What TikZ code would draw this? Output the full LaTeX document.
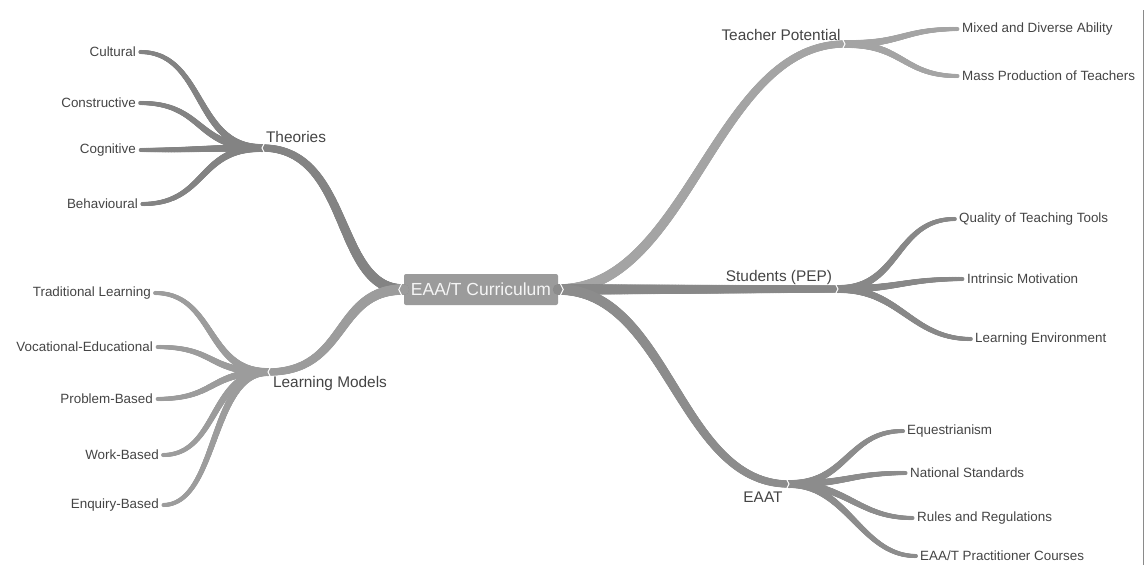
\documentclass[tikz,border=0pt]{standalone}
\usepackage{fontspec}
\setmainfont{Liberation Sans}
\usetikzlibrary{decorations.markings}

\definecolor{txt}{HTML}{444444}
\definecolor{bTh}{HTML}{838383}
\definecolor{bLm}{HTML}{9C9C9C}
\definecolor{bTp}{HTML}{A4A4A4}
\definecolor{bSt}{HTML}{888888}
\definecolor{bEa}{HTML}{8C8C8C}
\definecolor{rootfill}{HTML}{9B9B9B}
\definecolor{frame}{HTML}{8A8A8A}

\tikzset{
  % tapered branch: start radius, end radius, colour
  taper/.style n args={3}{postaction={decorate, decoration={markings,
    mark=between positions 0 and 1 step 0.6pt with {%
      \pgfmathsetmacro\tprad{#1+(#2-#1)*\pgfkeysvalueof{/pgf/decoration/mark info/distance from start}/\pgfdecoratedpathlength}%
      \fill[#3] (0,0) circle[radius=\tprad pt];}}}},
  trunk/.style={taper={5.3}{3.6}{#1}},
  twig/.style={taper={4.0}{2.0}{#1}},
  leaf/.style={text=txt, font=\fontsize{13.4}{15}\selectfont, inner sep=4pt},
  hublabel/.style={text=txt, font=\fontsize{15.4}{18}\selectfont, inner sep=0pt},
  rootbox/.style={fill=rootfill, text=white!92!gray, rounded corners=2pt,
    minimum width=154pt, minimum height=31pt, inner sep=0pt,
    font=\fontsize{17.5}{20}\selectfont},
  notch/.style={draw=white, line width=1pt},
}

\begin{document}
\begin{tikzpicture}[x=1pt, y=-1pt]
\useasboundingbox (0,0) rectangle (1147,565);

% centre
\node[rootbox] (root) at (481,289.5) {EAA/T Curriculum};

% junction points of the branches
\coordinate (th) at (262,148);
\coordinate (lm) at (268,372);
\coordinate (tp) at (845,44);
\coordinate (st) at (838,289);
\coordinate (ea) at (789,484);

% second-level labels
\node[hublabel] (thl) at (296,137) {Theories};
\node[hublabel] (lml) at (330,384) {Learning Models};
\node[hublabel] (tpl) at (781,35) {Teacher Potential};
\node[hublabel] (stl) at (779,278) {Students (PEP)};
\node[hublabel] (eal) at (763,497) {EAAT};

% leaves, left side
\node[leaf, anchor=east] (cul) at (140,52) {Cultural};
\node[leaf, anchor=east] (con) at (140,103) {Constructive};
\node[leaf, anchor=east] (cog) at (140,150) {Cognitive};
\node[leaf, anchor=east] (beh) at (142,204) {Behavioural};
\node[leaf, anchor=east] (tra) at (155,293) {Traditional Learning};
\node[leaf, anchor=east] (voc) at (157,347) {Vocational-Educational};
\node[leaf, anchor=east] (pro) at (157,399) {Problem-Based};
\node[leaf, anchor=east] (wor) at (163,455) {Work-Based};
\node[leaf, anchor=east] (enq) at (163,505) {Enquiry-Based};

% leaves, right side
\node[leaf, anchor=west] (mix) at (958,29) {Mixed and Diverse Ability};
\node[leaf, anchor=west] (mas) at (958,76) {Mass Production of Teachers};
\node[leaf, anchor=west] (qua) at (955,219) {Quality of Teaching Tools};
\node[leaf, anchor=west] (int) at (963,279) {Intrinsic Motivation};
\node[leaf, anchor=west] (len) at (971,339) {Learning Environment};
\node[leaf, anchor=west] (equ) at (903,431) {Equestrianism};
\node[leaf, anchor=west] (nat) at (906,473) {National Standards};
\node[leaf, anchor=west] (rul) at (913,518) {Rules and Regulations};
\node[leaf, anchor=west] (pra) at (916,556) {EAA/T Practitioner Courses};

% main branches
\path[trunk=bTh] (root.west) .. controls +(-70,0) and +(90,0) .. (th);
\path[trunk=bLm] (root.west) .. controls +(-70,0) and +(80,0) .. (lm);
\path[trunk=bTp] (root.east) .. controls +(130,0) and +(-130,0) .. (tp);
\path[trunk=bSt] (root.east) -- (st);
\path[trunk=bEa] (root.east) .. controls +(110,0) and +(-110,0) .. (ea);

% Theories
\path[twig=bTh] (th) .. controls +(-68,0) and +(65,0) .. (cul.east);
\path[twig=bTh] (th) .. controls +(-68,0) and +(65,0) .. (con.east);
\path[twig=bTh] (th) .. controls +(-60,0) and +(60,0) .. (cog.east);
\path[twig=bTh] (th) .. controls +(-65,0) and +(65,0) .. (beh.east);

% Learning Models
\path[twig=bLm] (lm) .. controls +(-62,0) and +(60,0) .. (tra.east);
\path[twig=bLm] (lm) .. controls +(-62,0) and +(60,0) .. (voc.east);
\path[twig=bLm] (lm) .. controls +(-60,0) and +(60,0) .. (pro.east);
\path[twig=bLm] (lm) .. controls +(-58,0) and +(55,0) .. (wor.east);
\path[twig=bLm] (lm) .. controls +(-58,0) and +(55,0) .. (enq.east);

% Teacher Potential
\path[twig=bTp] (tp) .. controls +(58,0) and +(-55,0) .. (mix.west);
\path[twig=bTp] (tp) .. controls +(58,0) and +(-55,0) .. (mas.west);

% Students (PEP)
\path[twig=bSt] (st) .. controls +(62,0) and +(-60,0) .. (qua.west);
\path[twig=bSt] (st) .. controls +(62,0) and +(-60,0) .. (int.west);
\path[twig=bSt] (st) .. controls +(62,0) and +(-60,0) .. (len.west);

% EAAT
\path[twig=bEa] (ea) .. controls +(58,0) and +(-55,0) .. (equ.west);
\path[twig=bEa] (ea) .. controls +(58,0) and +(-55,0) .. (nat.west);
\path[twig=bEa] (ea) .. controls +(58,0) and +(-55,0) .. (rul.west);
\path[twig=bEa] (ea) .. controls +(58,0) and +(-55,0) .. (pra.west);

% small notches where branches join
\draw[notch] ([shift={(3,-6)}]th) -- (th) -- ([shift={(3,6)}]th);
\draw[notch] ([shift={(3,-6)}]lm) -- (lm) -- ([shift={(3,6)}]lm);
\draw[notch] ([shift={(-3,-6)}]tp) -- (tp) -- ([shift={(-3,6)}]tp);
\draw[notch] ([shift={(-3,-6)}]st) -- (st) -- ([shift={(-3,6)}]st);
\draw[notch] ([shift={(-3,-6)}]ea) -- (ea) -- ([shift={(-3,6)}]ea);
\draw[notch] ([shift={(-2,-6)}]root.west) -- ([shift={(-5,0)}]root.west) -- ([shift={(-2,6)}]root.west);
\draw[notch] ([shift={(2,-6)}]root.east) -- ([shift={(5,0)}]root.east) -- ([shift={(2,6)}]root.east);

% frame line at the right edge
\draw[frame, line width=1.5pt] (1143.5,10) -- (1143.5,565);
\end{tikzpicture}
\end{document}
